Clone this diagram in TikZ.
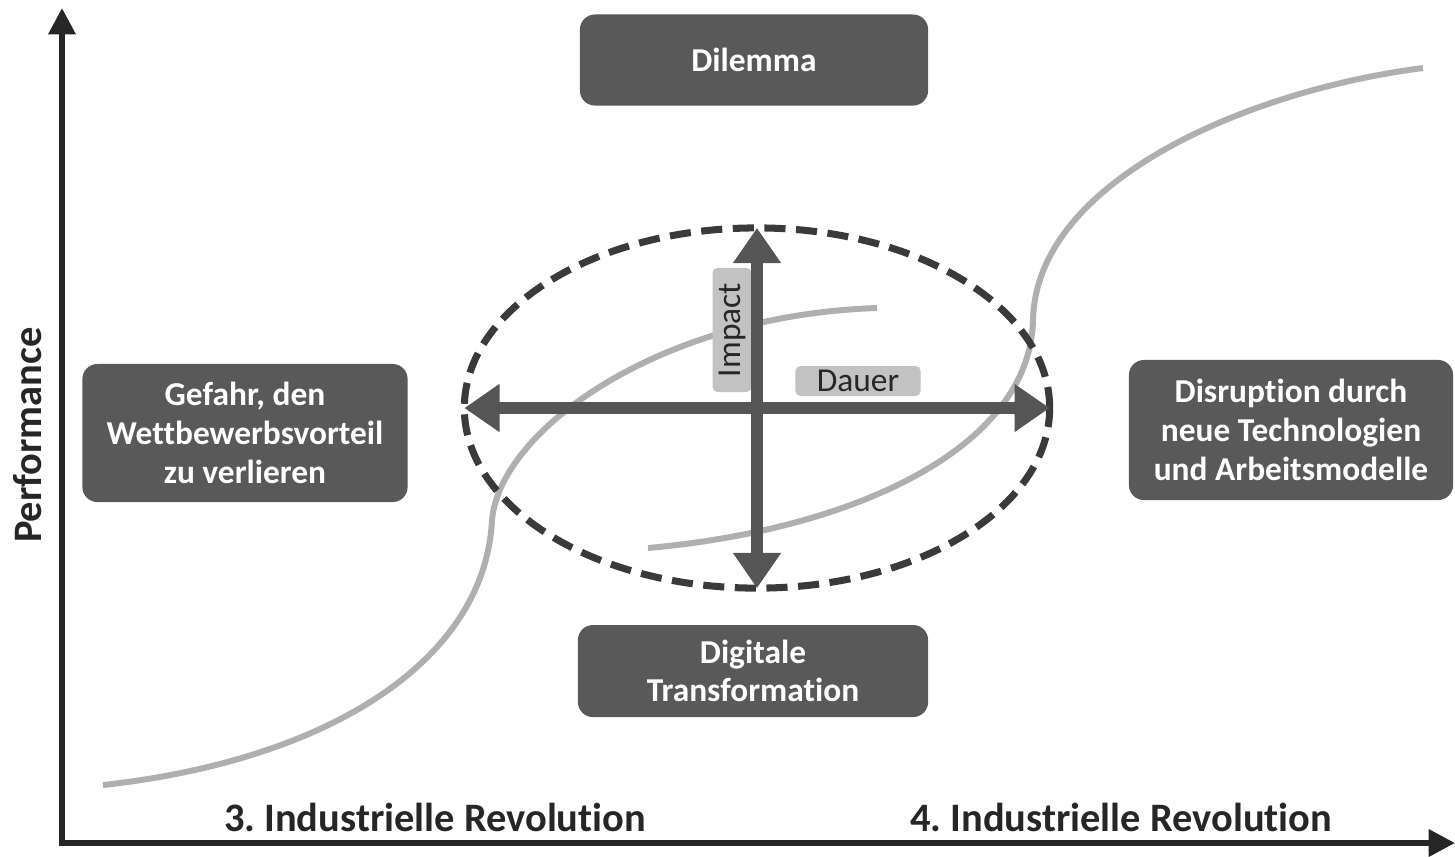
\documentclass[tikz,border=0pt]{standalone}
\usepackage{fontspec}
\setmainfont{Carlito}[Ligatures=NoCommon]
\frenchspacing
\usetikzlibrary{arrows.meta,shapes.geometric}
\definecolor{boxgray}{HTML}{595959}
\definecolor{axisgray}{HTML}{262626}
\definecolor{curvegray}{HTML}{AFAFAF}
\definecolor{arrowgray}{HTML}{555555}
\definecolor{dashgray}{HTML}{3A3A3A}
\definecolor{taggray}{HTML}{C2C2C2}

\begin{document}
\begin{tikzpicture}[x=0.01cm,y=-0.01cm,
    panel/.style={fill=boxgray,rounded corners=0.15cm,text=white,align=center,inner sep=0pt,
        font={\fontsize{9.5pt}{11pt}\selectfont\bfseries}},
    tag/.style={fill=taggray,rounded corners=0.05cm,text=axisgray,inner sep=0pt,
        font={\fontsize{9.5pt}{11pt}\selectfont}},
    axislabel/.style={text=axisgray,font={\fontsize{11.5pt}{13pt}\selectfont\bfseries}},
    scurve/.style={curvegray,line width=1.7pt},
    bigarrow/.style={arrowgray,line width=3.4pt,
        {Triangle[length=10pt,width=13pt]}-{Triangle[length=10pt,width=13pt]}}]

\useasboundingbox (0,0) rectangle (1455,856);

\coordinate (ytop) at (62,8);
\coordinate (xend) at (1455,843);
\draw[axisgray,line width=1.6pt,{Triangle[length=7.5pt,width=7.5pt]}-{Triangle[length=7.5pt,width=7.5pt]}]
    (ytop) |- (xend);

% 3. and 4. revolution
\draw[scurve] (103,785) .. controls (330,760) and (485,660) .. (492,520)
    .. controls (500,430) and (660,315) .. (877,308);
\draw[scurve] (648,548) .. controls (850,530) and (1030,450) .. (1033,320)
    .. controls (1036,180) and (1250,90) .. (1423,68);

\node[panel,minimum width=3.48cm,minimum height=0.91cm] (dilemma) at (754,60) {Dilemma};
\node[panel,minimum width=3.25cm,minimum height=1.38cm] (gefahr) at (245,433)
    {Gefahr, den\\Wettbewerbsvorteil\\zu verlieren};
\node[panel,minimum width=3.24cm,minimum height=1.40cm] (disruption) at (1291,430)
    {Disruption durch\\neue Technologien\\und Arbeitsmodelle};
\node[panel,minimum width=3.50cm,minimum height=0.92cm] (digital) at (753,671)
    {Digitale\\Transformation};

\node[tag,rotate=90,minimum width=1.24cm,minimum height=0.39cm] (impact) at (732,330) {Impact};
\node[tag,minimum width=1.25cm,minimum height=0.30cm] (dauer) at (858,381) {Dauer};

\node[ellipse,draw=dashgray,line width=2pt,dash pattern=on 6pt off 3pt,inner sep=0pt,
    outer sep=0pt,minimum width=5.85cm,minimum height=3.6cm] (zone) at (757,408) {};
\draw[bigarrow] (zone.west) -- (zone.east);
\draw[bigarrow] (zone.north) -- (zone.south);

\node[axislabel,rotate=90] (perf) at (28,435) {Performance};
\node[axislabel] (rev3) at (435,817) {3. Industrielle Revolution};
\node[axislabel] (rev4) at (1121,817) {4. Industrielle Revolution};

\end{tikzpicture}
\end{document}
